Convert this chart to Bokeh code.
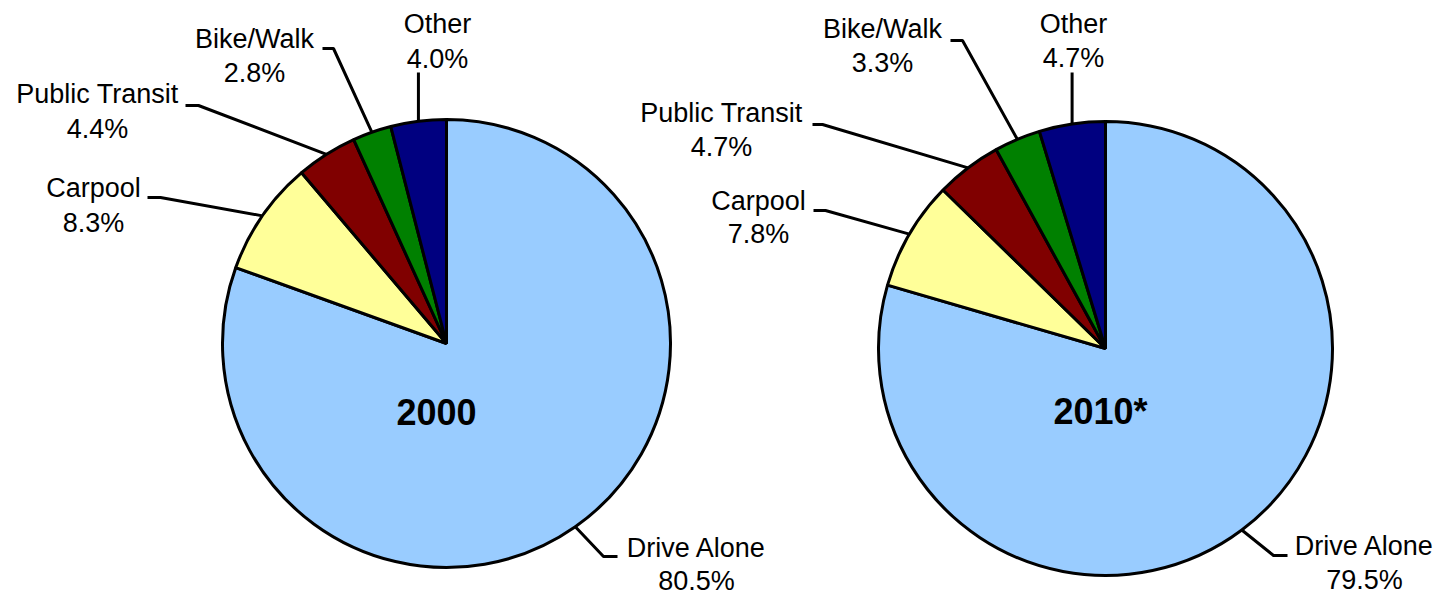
import numpy as np
from bokeh.plotting import figure
from bokeh.models import Range1d, ColumnDataSource
from bokeh.embed import file_html
from bokeh.resources import INLINE
from bokeh.core.properties import value

# ---------------- data ----------------
categories = ["Drive Alone", "Carpool", "Public Transit", "Bike/Walk", "Other"]
share_2000 = [80.5, 8.3, 4.4, 2.8, 4.0]
share_2010 = [79.5, 7.8, 4.7, 3.3, 4.7]
years = ["2000", "2010*"]
colors = ["#99CCFF", "#FFFF99", "#800000", "#008000", "#000080"]

# ---------------- layout (screen pixels) ----------------
W, H, OFF = 1454, 594, 0
LABEL_PX, TITLE_PX = 27, 36
LABEL_SHIFT, TITLE_SHIFT = 10, 14   # renderer baseline correction


def X(px):
    return px - OFF


def Y(py):
    return H + OFF - py


pie_centers = [(446, 343), (1105, 348)]
pie_radii = [224, 227]
title_pos = [(436, 425), (1100, 425)]
# (center x, baseline of first line, line gap)
label_pos = [
    [(696, 557, 33), (93, 197, 35), (97, 103, 35), (254, 48, 34), (437, 33, 35)],
    [(1364, 555, 34), (758, 210, 33), (721, 122, 34), (882, 38, 34), (1073, 33, 34)],
]
# label-side points of each leader line (None x -> same x as slice edge point)
leader_pts = [
    [[(617, 556), (603, 556)], [(147, 197), (160, 197)], [(185, 105), (198, 105)],
     [(322, 48), (333, 48)], [(None, 72)]],
    [[(1287, 555), (1273, 555)], [(813, 210), (825, 210)], [(812, 124), (822, 124)],
     [(950, 40), (962, 40)], [(None, 72)]],
]

FONT = value("Liberation Sans")

p = figure(width=W, height=H, x_range=Range1d(0, W), y_range=Range1d(0, H),
           output_backend="svg", toolbar_location=None,
           x_axis_type=None, y_axis_type=None, min_border=0,
           outline_line_color=None, background_fill_color="white")
p.grid.visible = False

for k, shares in enumerate([share_2000, share_2010]):
    cxp, cyp = pie_centers[k]
    cx, cy = X(cxp), Y(cyp)
    r = pie_radii[k]
    frac = np.array(shares) / np.sum(shares)
    end_cw = np.cumsum(frac) * 2 * np.pi
    start_cw = end_cw - frac * 2 * np.pi
    mid_cw = (start_cw + end_cw) / 2

    src = ColumnDataSource(dict(
        x=[cx] * len(shares), y=[cy] * len(shares),
        start=list(np.pi / 2 - start_cw), end=list(np.pi / 2 - end_cw),
        color=colors, cat=categories))
    p.wedge(x="x", y="y", radius=r, start_angle="start", end_angle="end",
            direction="clock", fill_color="color", line_color="black",
            line_width=3, source=src)

    # leaders
    xs, ys = [], []
    for i in range(len(shares)):
        ex = cx + r * np.sin(mid_cw[i])
        ey = cy + r * np.cos(mid_cw[i])
        lx, ly = [], []
        for (px, py) in leader_pts[k][i]:
            lx.append(ex if px is None else X(px))
            ly.append(Y(py))
        lx.append(ex)
        ly.append(ey)
        xs.append(lx)
        ys.append(ly)
    p.multi_line(xs, ys, line_color="black", line_width=3)

    # labels
    tx, ty, tt = [], [], []
    for i, cat in enumerate(categories):
        lxp, lyp, gap = label_pos[k][i]
        tx += [X(lxp), X(lxp)]
        ty += [Y(lyp - LABEL_SHIFT), Y(lyp + gap - LABEL_SHIFT)]
        tt += [cat, f"{shares[i]:.1f}%"]
    p.text(x=tx, y=ty, text=tt, text_font=FONT, text_font_size=f"{LABEL_PX}px",
           text_align="center", text_baseline="alphabetic", text_color="black")

    # year title
    p.text(x=[X(title_pos[k][0])], y=[Y(title_pos[k][1] - TITLE_SHIFT)], text=[years[k]],
           text_font=FONT, text_font_size=f"{TITLE_PX}px", text_font_style="bold",
           text_align="center", text_baseline="alphabetic", text_color="black")

open("out.html", "w").write(file_html(p, INLINE))
